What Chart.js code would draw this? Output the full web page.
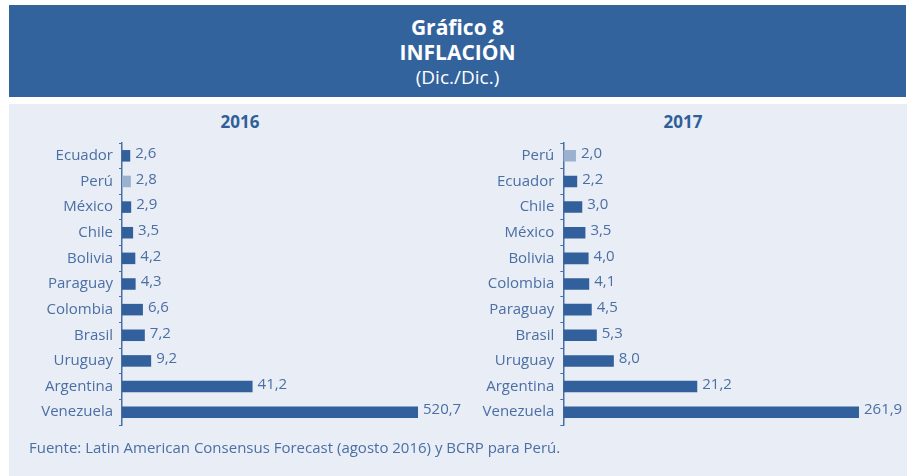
<!DOCTYPE html>
<html>
<head>
<meta charset="utf-8">
<script src="https://cdn.jsdelivr.net/npm/chart.js@4/dist/chart.umd.min.js"></script>
<style>
  html, body { margin: 0; padding: 0; background: #ffffff; }
  body { width: 907px; height: 476px; position: relative; overflow: hidden; font-family: "Open Sans", "Noto Sans", sans-serif; }
  #band { position: absolute; left: 9px; top: 5px; width: 897px; height: 92px; background: #33639d; color: #ffffff; text-align: center; }
  #band .t1 { position: absolute; left: 0; right: 0; top: 10px; font-size: 21px; font-weight: bold; line-height: 24px; }
  #band .t2 { position: absolute; left: 0; right: 0; top: 35px; font-size: 21px; font-weight: bold; line-height: 24px; }
  #band .t3 { position: absolute; left: 0; right: 0; top: 60px; font-size: 19px; line-height: 24px; }
  #panel { position: absolute; left: 9px; top: 104px; width: 898px; height: 372px; background: #e9edf5; }
  .year { position: absolute; top: 110px; font-size: 17px; font-weight: bold; color: #2f5f9a; text-align: center; width: 120px; }
  #foot { position: absolute; left: 29px; top: 437px; font-size: 15px; color: #4a6fa5; white-space: nowrap; }
  .cw { position: absolute; }
</style>
</head>
<body>
<div id="band">
  <div class="t1">Gráfico 8</div>
  <div class="t2">INFLACIÓN</div>
  <div class="t3">(Dic./Dic.)</div>
</div>
<div id="panel"></div>
<div class="year" style="left:180px;">2016</div>
<div class="year" style="left:623px;">2017</div>
<div class="cw" style="left:9px; top:104px; width:461px; height:336px;"><canvas id="c1"></canvas></div>
<div class="cw" style="left:450px; top:104px; width:457px; height:336px;"><canvas id="c2"></canvas></div>
<div id="foot">Fuente: Latin American Consensus Forecast (agosto 2016) y BCRP para Perú.</div>
<script>
const countries2016 = ["Ecuador", "Perú", "México", "Chile", "Bolivia", "Paraguay", "Colombia", "Brasil", "Uruguay", "Argentina", "Venezuela"];
const values2016 = [2.6, 2.8, 2.9, 3.5, 4.2, 4.3, 6.6, 7.2, 9.2, 41.2, 520.7];
const countries2017 = ["Perú", "Ecuador", "Chile", "México", "Bolivia", "Colombia", "Paraguay", "Brasil", "Uruguay", "Argentina", "Venezuela"];
const values2017 = [2.0, 2.2, 3.0, 3.5, 4.0, 4.1, 4.5, 5.3, 8.0, 21.2, 261.9];
const highlight = "Perú";

const BAR = "#31609c";
const BAR_HL = "#9bb1d0";
const TXT = "#4a6fa5";

const valueLabels = {
  id: "valueLabels",
  afterDatasetsDraw(chart) {
    const ctx = chart.ctx;
    const meta = chart.getDatasetMeta(0);
    const ds = chart.data.datasets[0];
    ctx.save();
    ctx.font = "15px 'Open Sans', 'Noto Sans', sans-serif";
    ctx.fillStyle = TXT;
    ctx.textAlign = "left";
    ctx.textBaseline = "middle";
    meta.data.forEach((bar, i) => {
      const x = Math.min(bar.x, chart.chartArea.right);
      const txt = ds.data[i].toFixed(1).replace(".", ",");
      ctx.fillText(txt, x + 5, bar.y - 2);
    });
    ctx.restore();
  }
};

function makeChart(id, labels, values, xmax, yWidth, padRight) {
  return new Chart(document.getElementById(id), {
    type: "bar",
    data: {
      labels: labels,
      datasets: [{
        data: values,
        backgroundColor: labels.map(l => l === highlight ? BAR_HL : BAR),
        categoryPercentage: 0.9,
        barPercentage: 0.5
      }]
    },
    options: {
      indexAxis: "y",
      responsive: true,
      maintainAspectRatio: false,
      animation: false,
      layout: { padding: { top: 39, bottom: 14, right: padRight, left: 0 } },
      plugins: { legend: { display: false }, tooltip: { enabled: false } },
      scales: {
        x: { display: false, min: 0, max: xmax },
        y: {
          afterFit(scale) { scale.width = yWidth; },
          border: { display: true, color: "#4a6fa5", width: 1.5 },
          grid: { display: true, offset: true, drawOnChartArea: false, tickLength: 3, color: "#4a6fa5" },
          ticks: { color: TXT, font: { family: "'Open Sans', 'Noto Sans', sans-serif", size: 15 }, padding: 6 }
        }
      }
    },
    plugins: [valueLabels]
  });
}

makeChart("c1", countries2016, values2016, 93.4, 113, 52);
makeChart("c2", countries2017, values2017, 46.8, 113.3, 48);
</script>
</body>
</html>
